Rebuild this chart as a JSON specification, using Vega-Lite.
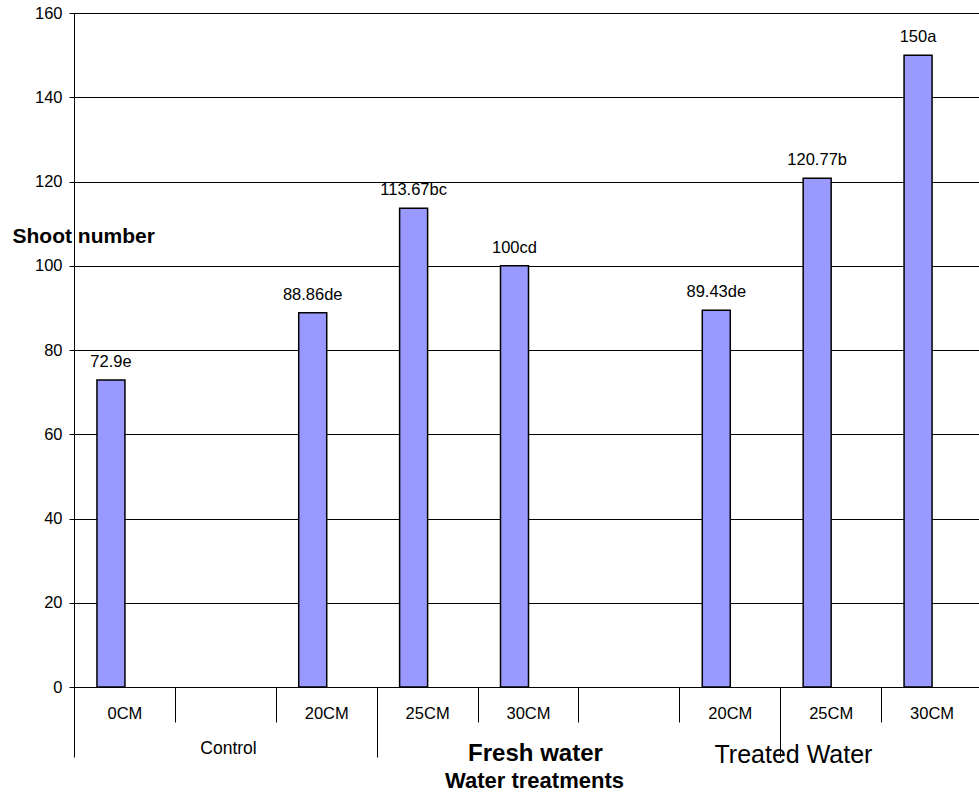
{
  "$schema": "https://vega.github.io/schema/vega-lite/v6.json",
  "width": 908,
  "height": 674,
  "autosize": {"type": "none"},
  "padding": {"left": 74, "top": 13, "right": 0, "bottom": 107},
  "background": "white",
  "config": {
    "view": {"stroke": null},
    "axis": {
      "labelFont": "Liberation Sans",
      "titleFont": "Liberation Sans",
      "labelColor": "black",
      "titleColor": "black",
      "domainColor": "black",
      "tickColor": "black",
      "gridColor": "black"
    }
  },
  "data": {
    "values": [
      {"slot": "Control:0CM", "shoots": 72.9, "label": "72.9e"},
      {"slot": "Fresh water:20CM", "shoots": 88.86, "label": "88.86de"},
      {"slot": "Fresh water:25CM", "shoots": 113.67, "label": "113.67bc"},
      {"slot": "Fresh water:30CM", "shoots": 100, "label": "100cd"},
      {"slot": "Treated Water:20CM", "shoots": 89.43, "label": "89.43de"},
      {"slot": "Treated Water:25CM", "shoots": 120.77, "label": "120.77b"},
      {"slot": "Treated Water:30CM", "shoots": 150, "label": "150a"}
    ]
  },
  "layer": [
    {
      "mark": {"type": "bar", "width": 28, "xOffset": -13.5, "fill": "#9999FF", "stroke": "black", "strokeWidth": 1.5},
      "encoding": {
        "x": {
          "field": "slot",
          "type": "nominal",
          "scale": {
            "domain": ["Control:0CM", "gap:1", "Fresh water:20CM", "Fresh water:25CM", "Fresh water:30CM", "gap:2", "Treated Water:20CM", "Treated Water:25CM", "Treated Water:30CM"],
            "paddingInner": 0,
            "paddingOuter": 0
          },
          "axis": {
            "orient": "bottom",
            "title": null,
            "labelAngle": 0,
            "labelExpr": "indexof(datum.value, 'gap') == 0 ? '' : split(datum.value, ':')[1]",
            "labelFontSize": 16.5,
            "labelBaseline": "alphabetic",
            "labelPadding": -4,
            "tickSize": 35,
            "tickOffset": -50.44,
            "labelOffset": 50.44,
            "grid": false
          }
        },
        "y": {
          "field": "shoots",
          "type": "quantitative",
          "scale": {"domain": [0, 160], "nice": false},
          "axis": {
            "values": [0, 20, 40, 60, 80, 100, 120, 140, 160],
            "labelFontSize": 16.5,
            "labelPadding": 7,
            "tickSize": 5,
            "title": "Shoot number",
            "titleAngle": 0,
            "titleAlign": "left",
            "titleBaseline": "alphabetic",
            "titleX": -62,
            "titleY": 229,
            "titleFontSize": 21,
            "titleFontWeight": "bold"
          }
        }
      }
    },
    {
      "mark": {"type": "text", "xOffset": -13.5, "dy": -13, "baseline": "alphabetic", "fontSize": 16.5, "color": "black", "font": "Liberation Sans"},
      "encoding": {
        "x": {
          "field": "slot",
          "type": "nominal",
          "axis": {
            "orient": "bottom",
            "values": ["Control:0CM", "Fresh water:25CM", "Treated Water:25CM"],
            "labelExpr": "datum.value == 'Control:0CM' ? 'Control' : datum.value == 'Fresh water:25CM' ? 'Fresh water' : 'Treated Water'",
            "labelAngle": 0,
            "labelBaseline": "alphabetic",
            "labelFontSize": {"condition": [{"test": "datum.value == 'Fresh water:25CM'", "value": 24}, {"test": "datum.value == 'Treated Water:25CM'", "value": 25}], "value": 17.5},
            "labelFontWeight": {"condition": {"test": "datum.value == 'Fresh water:25CM'", "value": "bold"}, "value": "normal"},
            "labelPadding": {"condition": [{"test": "datum.value == 'Fresh water:25CM'", "value": 3}, {"test": "datum.value == 'Treated Water:25CM'", "value": 5}], "value": -4},
            "labelOffset": {"condition": [{"test": "datum.value == 'Fresh water:25CM'", "value": 158.3}, {"test": "datum.value == 'Treated Water:25CM'", "value": 12.7}], "value": 154},
            "tickSize": 70,
            "tickOffset": -50.44,
            "domain": false,
            "grid": false,
            "title": "Water treatments",
            "titleFontSize": 22,
            "titleFontWeight": "bold",
            "titleBaseline": "alphabetic",
            "titleAlign": "center",
            "titleX": 460,
            "titleY": 100
          }
        },
        "y": {"field": "shoots", "type": "quantitative"},
        "text": {"field": "label"}
      }
    }
  ],
  "resolve": {"axis": {"x": "independent"}}
}
